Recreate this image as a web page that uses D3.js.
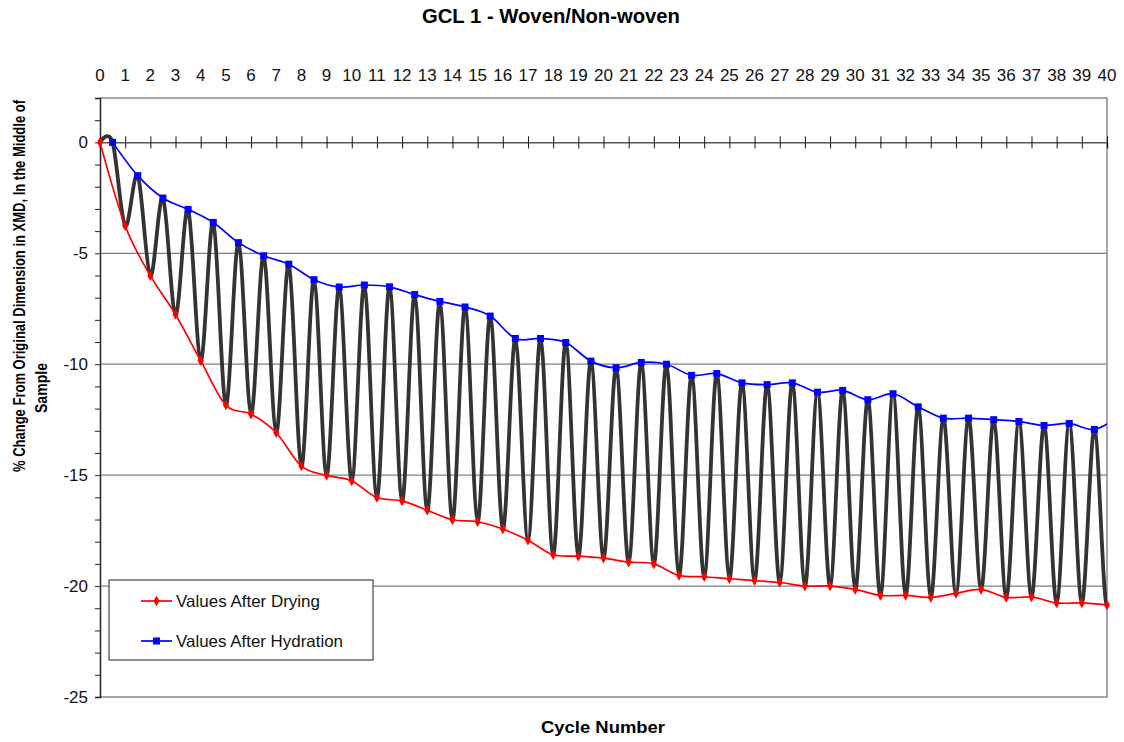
<!DOCTYPE html>
<html>
<head>
<meta charset="utf-8">
<script src="https://cdn.jsdelivr.net/npm/d3@7/dist/d3.min.js"></script>
<style>
  body { margin: 0; background: #fff; }
  text { font-family: Arial, "Liberation Sans", sans-serif; }
</style>
</head>
<body>
<svg id="chart" width="1124" height="742"></svg>
<script>
// values after drying, read at whole cycles 0..40
const dryCycles = d3.range(0, 41);
const drying = [0, -3.76, -6.01, -7.76, -9.84, -11.84, -12.25, -13.09, -14.59, -15.01,
  -15.26, -16.01, -16.16, -16.58, -17.01, -17.1, -17.43, -17.93, -18.59, -18.65,
  -18.74, -18.92, -19.0, -19.52, -19.58, -19.67, -19.75, -19.84, -20.0, -20.0,
  -20.15, -20.42, -20.42, -20.51, -20.33, -20.15, -20.51, -20.49, -20.76, -20.76, -20.85];

// values after hydration, at half cycles 0.5..40.5 (last one falls outside the axis)
const hydCycles = d3.range(0.5, 41, 1);
const hydration = [0, -1.5, -2.51, -3.02, -3.61, -4.52, -5.11, -5.49, -6.19, -6.52,
  -6.43, -6.51, -6.86, -7.17, -7.42, -7.83, -8.84, -8.84, -9.02, -9.86,
  -10.16, -9.92, -10.0, -10.5, -10.42, -10.84, -10.92, -10.84, -11.26, -11.18,
  -11.6, -11.33, -11.92, -12.43, -12.43, -12.5, -12.58, -12.76, -12.67, -12.94, -12.3];

const xTicks = d3.range(0, 41);
const yTicks = [0, -5, -10, -15, -20, -25];

const svg = d3.select('#chart');
const pl = 100, pr = 1107, pt = 98, pb = 697;

const x = d3.scaleLinear().domain([0, 40]).range([pl, pr]);
const y = d3.scaleLinear().domain([-25, 2]).range([pb, pt]);

const dry = dryCycles.map((c, i) => ({ c, v: drying[i] }));
const hyd = hydCycles.map((c, i) => ({ c, v: hydration[i] }));
// both series in time order -> the swinging black trace
const both = [];
dry.forEach((d, i) => { both.push(d); if (hyd[i]) both.push(hyd[i]); });

svg.append('defs').append('clipPath').attr('id', 'plot')
  .append('rect').attr('x', pl).attr('y', pt)
  .attr('width', pr - pl).attr('height', pb - pt);

// grid + frame
svg.append('g').selectAll('line').data([-5, -10, -15, -20])
  .enter().append('line')
  .attr('x1', pl).attr('x2', pr)
  .attr('y1', d => y(d)).attr('y2', d => y(d))
  .attr('stroke', '#808080').attr('stroke-width', 1.3);
svg.append('path')
  .attr('d', `M${pl},${pt}H${pr}V${pb}H${pl}`)
  .attr('fill', 'none').attr('stroke', '#8a8a8a').attr('stroke-width', 1.5);

// y axis with a tick each unit
const yAxis = svg.append('g').attr('transform', `translate(${pl},0)`)
  .call(d3.axisLeft(y).tickValues(d3.range(-25, 3)).tickSize(5).tickFormat(''));
yAxis.select('.domain').attr('stroke', '#222').attr('stroke-width', 1.5);
yAxis.selectAll('.tick line').attr('stroke', '#222');
svg.append('g').selectAll('text').data(yTicks).enter().append('text')
  .attr('x', 88).attr('y', d => y(d)).attr('dy', '0.36em')
  .attr('text-anchor', 'end').attr('font-size', 17).attr('fill', '#111')
  .text(d => d);

// zero line with crossing ticks
const xAxis = svg.append('g').attr('transform', `translate(0,${y(0)})`)
  .call(d3.axisBottom(x).tickValues(xTicks).tickSize(6).tickFormat(''));
xAxis.select('.domain').attr('stroke', '#555').attr('stroke-width', 1.5);
xAxis.selectAll('.tick line').attr('y1', -6).attr('stroke', '#111');

// cycle labels across the top
svg.append('g').selectAll('text').data(xTicks).enter().append('text')
  .attr('x', d => x(d)).attr('y', 81)
  .attr('text-anchor', 'middle').attr('font-size', 17).attr('fill', '#111')
  .text(d => d);

const curve = d3.curveCatmullRom.alpha(0);
const line = d3.line().x(d => x(d.c)).y(d => y(d.v)).curve(curve);
const plot = svg.append('g').attr('clip-path', 'url(#plot)');

plot.append('path').datum(both).attr('d', line)
  .attr('fill', 'none').attr('stroke', '#333').attr('stroke-width', 3.8);
plot.append('path').datum(dry).attr('d', line)
  .attr('fill', 'none').attr('stroke', '#ff0000').attr('stroke-width', 1.7);
plot.append('path').datum(hyd).attr('d', line)
  .attr('fill', 'none').attr('stroke', '#0000ff').attr('stroke-width', 1.7);

const diamond = d3.symbol().type(d3.symbolDiamond).size(32);
svg.append('g').selectAll('path').data(dry).enter().append('path')
  .attr('d', diamond).attr('transform', d => `translate(${x(d.c)},${y(d.v)})`)
  .attr('fill', '#ff0000');
svg.append('g').selectAll('rect').data(hyd.filter(d => d.c <= 40)).enter().append('rect')
  .attr('x', d => x(d.c) - 3.5).attr('y', d => y(d.v) - 3.5)
  .attr('width', 7).attr('height', 7).attr('fill', '#0000ff');

// legend
const lg = svg.append('g');
lg.append('rect').attr('x', 109).attr('y', 580).attr('width', 264).attr('height', 80)
  .attr('fill', '#fff').attr('stroke', '#222').attr('stroke-width', 1);
const items = [
  { name: 'Values After Drying', color: '#ff0000', mark: 'diamond', w: 144 },
  { name: 'Values After Hydration', color: '#0000ff', mark: 'square', w: 167 }
];
items.forEach((it, i) => {
  const ly = 601 + i * 40;
  lg.append('line').attr('x1', 141).attr('x2', 172).attr('y1', ly).attr('y2', ly)
    .attr('stroke', it.color).attr('stroke-width', 1.7);
  if (it.mark === 'diamond') {
    lg.append('path').attr('d', diamond).attr('transform', `translate(156.5,${ly})`).attr('fill', it.color);
  } else {
    lg.append('rect').attr('x', 153).attr('y', ly - 3.5).attr('width', 7).attr('height', 7).attr('fill', it.color);
  }
  lg.append('text').attr('x', 176).attr('y', ly).attr('dy', '0.36em')
    .attr('font-size', 16.5).attr('fill', '#111')
    .attr('textLength', it.w).attr('lengthAdjust', 'spacingAndGlyphs').text(it.name);
});

// titles
svg.append('text').attr('x', 551).attr('y', 23).attr('text-anchor', 'middle')
  .attr('font-size', 20).attr('font-weight', 'bold')
  .attr('textLength', 258).attr('lengthAdjust', 'spacingAndGlyphs')
  .text('GCL 1 - Woven/Non-woven');
svg.append('text').attr('x', 603).attr('y', 733).attr('text-anchor', 'middle')
  .attr('font-size', 17).attr('font-weight', 'bold')
  .attr('textLength', 124).attr('lengthAdjust', 'spacingAndGlyphs')
  .text('Cycle Number');
svg.append('text').attr('transform', 'translate(25,286) rotate(-90)')
  .attr('text-anchor', 'middle').attr('font-size', 16).attr('font-weight', 'bold')
  .attr('textLength', 372).attr('lengthAdjust', 'spacingAndGlyphs')
  .text('% Change From Original Dimension in XMD, In the Middle of');
svg.append('text').attr('transform', 'translate(47,388) rotate(-90)')
  .attr('text-anchor', 'middle').attr('font-size', 16).attr('font-weight', 'bold')
  .attr('textLength', 50).attr('lengthAdjust', 'spacingAndGlyphs')
  .text('Sample');
</script>
</body>
</html>
